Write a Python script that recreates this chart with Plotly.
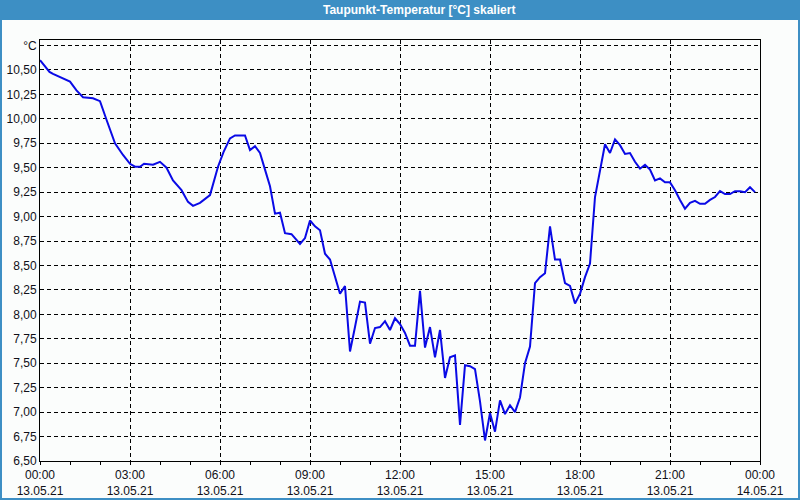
import plotly.graph_objects as go

# ---- data ----
times = ["00:00","00:19","00:26","00:43","01:00","01:13","01:26","01:46","02:00","02:13",
         "02:30","02:46","03:00","03:10","03:20","03:28","03:46","04:00","04:13","04:26",
         "04:43","04:56","05:06","05:20","05:40","05:56","06:07","06:20","06:30","06:50",
         "07:00","07:10","07:20","07:30","07:40","07:50","08:00","08:10","08:23","08:40",
         "08:50","09:00","09:10","09:20","09:30","09:40","09:50","10:00","10:10","10:20",
         "10:30","10:40","10:50","11:00","11:10","11:20","11:30","11:40","11:50","12:00",
         "12:10","12:20","12:30","12:40","12:50","13:00","13:10","13:20","13:30","13:40",
         "13:50","14:00","14:10","14:20","14:30","14:40","14:50","15:00","15:10","15:20",
         "15:30","15:40","15:50","16:00","16:10","16:20","16:30","16:40","16:50","17:00",
         "17:10","17:20","17:30","17:40","17:50","18:00","18:10","18:20","18:30","18:40",
         "18:50","19:00","19:10","19:20","19:30","19:40","19:50","20:00","20:10","20:20",
         "20:30","20:40","20:50","21:00","21:10","21:20","21:30","21:40","21:50","22:00",
         "22:10","22:20","22:30","22:40","22:50","23:00","23:10","23:20","23:30","23:40",
         "23:50"]
dewpoint = [10.60,10.48,10.46,10.42,10.38,10.29,10.22,10.21,10.18,9.99,
            9.75,9.63,9.54,9.51,9.51,9.54,9.53,9.56,9.50,9.37,
            9.27,9.15,9.11,9.14,9.22,9.51,9.66,9.80,9.83,9.83,
            9.68,9.72,9.65,9.48,9.31,9.03,9.04,8.83,8.82,8.72,
            8.78,8.96,8.90,8.86,8.62,8.56,8.38,8.21,8.29,7.62,
            7.87,8.13,8.12,7.70,7.86,7.87,7.93,7.84,7.96,7.90,
            7.81,7.68,7.68,8.24,7.66,7.87,7.56,7.84,7.35,7.56,
            7.58,6.87,7.48,7.47,7.44,7.11,6.71,6.99,6.80,7.12,
            6.98,7.07,7.00,7.15,7.50,7.67,8.32,8.38,8.42,8.90,
            8.56,8.56,8.32,8.29,8.11,8.21,8.38,8.52,9.20,9.48,
            9.74,9.65,9.79,9.73,9.64,9.65,9.56,9.49,9.53,9.48,
            9.37,9.39,9.35,9.35,9.27,9.17,9.08,9.14,9.16,9.13,
            9.13,9.17,9.20,9.26,9.23,9.23,9.26,9.26,9.25,9.30,
            9.25]
date = "2021-05-13"
y_tickvals = [6.50,6.75,7.00,7.25,7.50,7.75,8.00,8.25,8.50,8.75,9.00,9.25,9.50,9.75,10.00,10.25,10.50,10.75]
y_ticktext = ["6,50","6,75","7,00","7,25","7,50","7,75","8,00","8,25","8,50","8,75","9,00","9,25",
              "9,50","9,75","10,00","10,25","10,50","°C"]
title_text = "Taupunkt-Temperatur [°C] skaliert"

x = [f"{date} {t}" for t in times]

W, H = 800, 500
L, R, T, B = 40, 40, 40, 39
pw, ph = W - L - R, H - T - B

def px(xp):
    return (xp - L) / pw

def py(yp):
    return (H - B - yp) / ph

BLUE_BAR = "#3d8fc4"
BG = "#fbfdfc"
TXT = "#101018"
FONT = "Liberation Sans"

fig = go.Figure()
fig.add_trace(go.Scatter(x=x, y=dewpoint, mode="lines",
                         line=dict(color="#0a0ae6", width=2), hoverinfo="skip"))

fig.update_layout(
    width=W, height=H,
    margin=dict(l=L, r=R, t=T, b=B, autoexpand=False),
    paper_bgcolor=BG, plot_bgcolor=BG,
    showlegend=False,
    font=dict(family=FONT, size=12, color=TXT),
    shapes=[
        dict(type="rect", xref="paper", yref="paper",
             x0=px(0), x1=px(W), y0=py(20), y1=py(0),
             fillcolor=BLUE_BAR, line=dict(width=0), layer="above"),
        dict(type="rect", xref="paper", yref="paper",
             x0=px(1), x1=px(W - 1), y0=py(H - 1), y1=py(1),
             fillcolor="rgba(0,0,0,0)", line=dict(color=BLUE_BAR, width=2), layer="above"),
    ],
    annotations=[
        dict(text="<b>" + title_text + "</b>", xref="paper", yref="paper",
             x=px(419), y=py(10), xanchor="center", yanchor="middle",
             showarrow=False, font=dict(family=FONT, size=12, color="white")),
    ],
)

fig.update_xaxes(
    type="date", automargin=False,
    range=[f"{date} 00:00", "2021-05-14 00:00"],
    tickmode="linear", tick0=f"{date} 00:00", dtick=3 * 3600 * 1000,
    tickformat="%H:%M<br>%d.%m.%y",
    ticks="outside", ticklen=3, tickcolor="black",
    minor=dict(dtick=3600 * 1000, ticks="outside", ticklen=3, tickcolor="black", showgrid=False),
    showgrid=True, gridcolor="black", gridwidth=1, griddash="4px,3px",
    showline=True, linecolor="black", linewidth=1, mirror=True,
    zeroline=False, tickfont=dict(size=12, color=TXT),
)
fig.update_yaxes(
    automargin=False,
    range=[6.5, 10.806],
    tickmode="array", tickvals=y_tickvals, ticktext=y_ticktext,
    ticks="", showgrid=True, gridcolor="black", gridwidth=1, griddash="4px,3px",
    showline=True, linecolor="black", linewidth=1, mirror=True,
    zeroline=False, tickfont=dict(size=12, color=TXT),
)

fig.write_html("out.html")
